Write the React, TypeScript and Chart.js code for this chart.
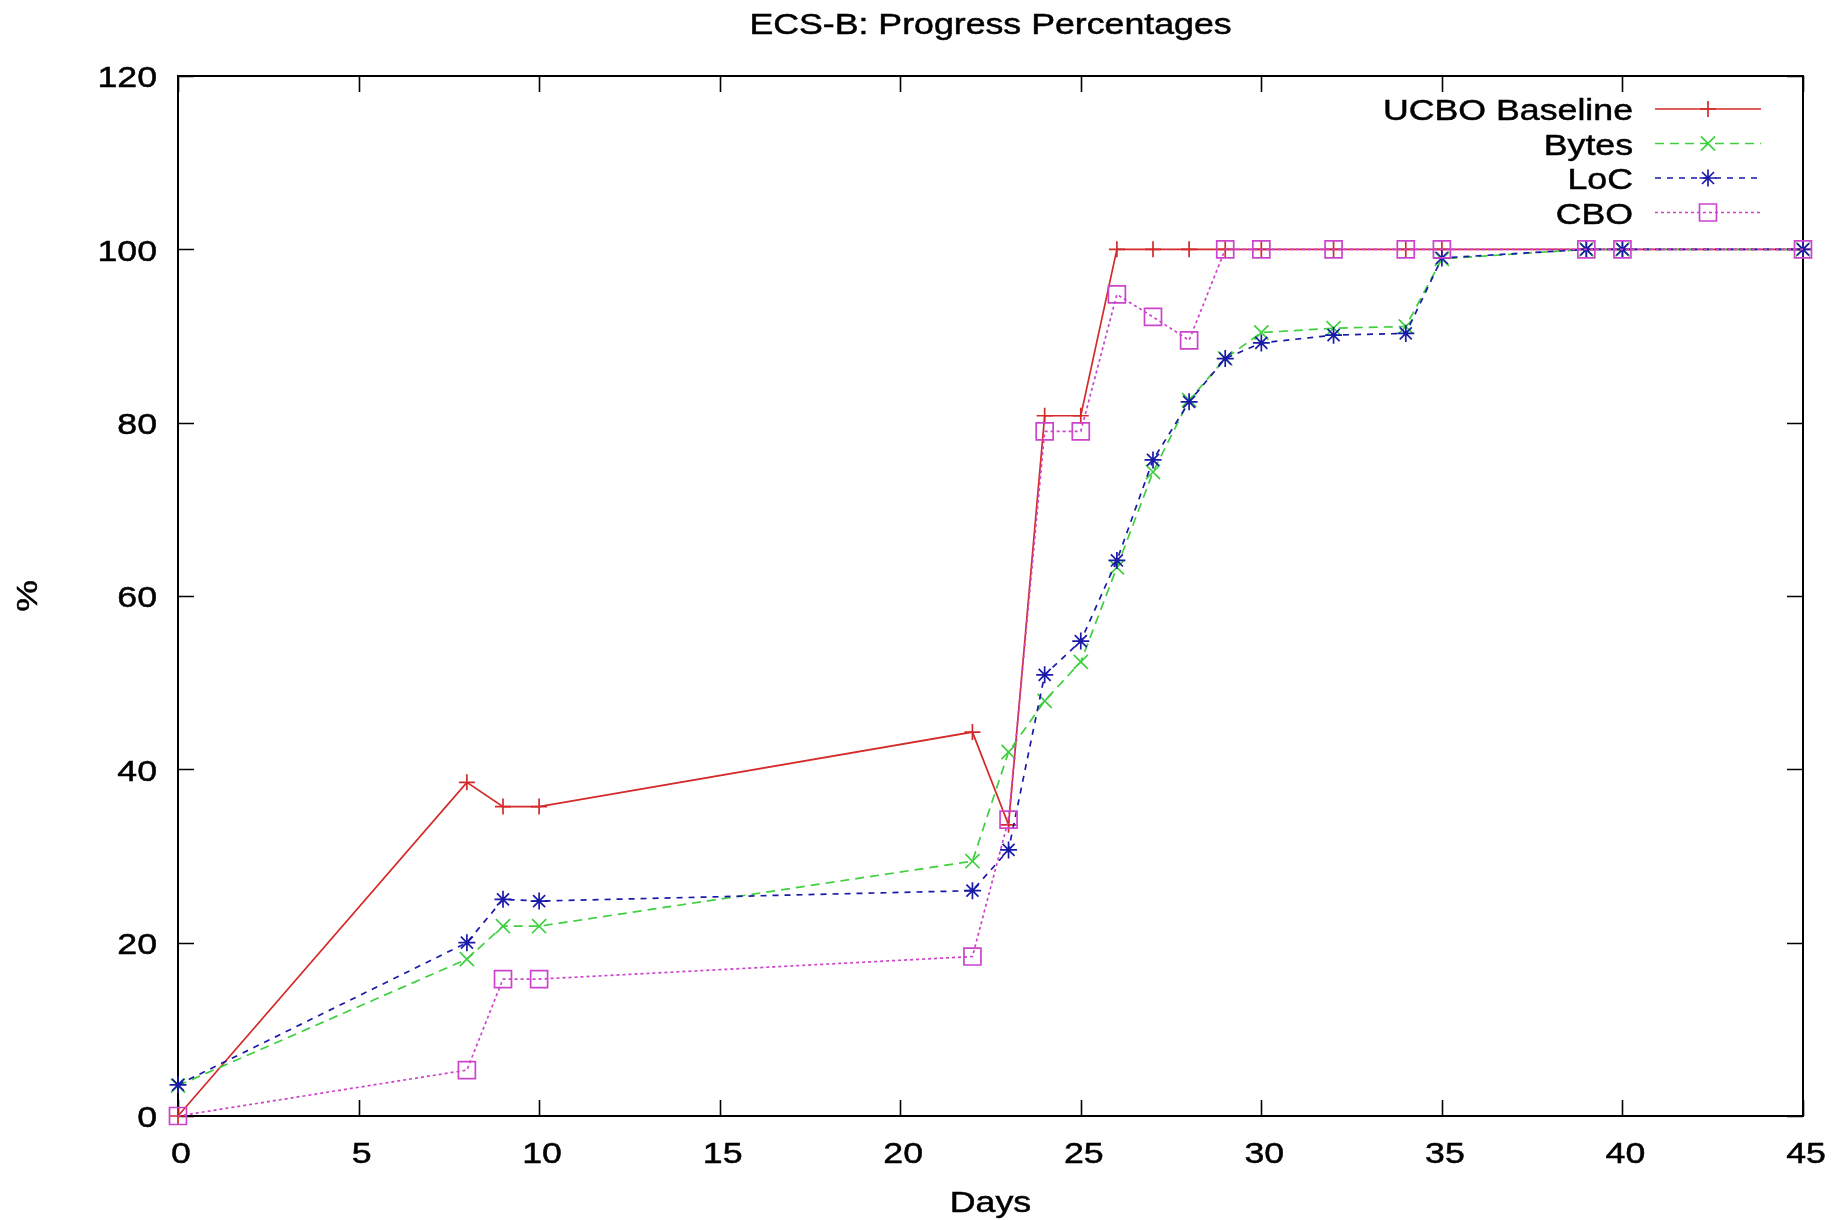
import React, { useEffect, useRef } from "react";
import { Chart, registerables } from "chart.js";

Chart.register(...registerables);

// Progress data per day of the ECS-B run
const days = [0, 8, 9, 10, 22, 23, 24, 25, 26, 27, 28, 29, 30, 32, 34, 35, 39, 40, 45];
const baseline = [0, 38.5, 35.7, 35.7, 44.3, 33.6, 80.8, 80.8, 100, 100, 100, 100, 100, 100, 100, 100, 100, 100, 100];
const bytes = [3.5, 18.1, 21.9, 21.9, 29.4, 42.0, 47.9, 52.4, 63.3, 74.3, 82.6, 87.4, 90.4, 90.9, 91.1, 98.9, 100, 100, 100];
const loc = [3.6, 20.0, 25.0, 24.8, 26.0, 30.7, 50.9, 54.8, 64.1, 75.7, 82.4, 87.4, 89.2, 90.1, 90.3, 99.0, 100, 100, 100];
const cbo = [0, 5.3, 15.8, 15.8, 18.4, 34.2, 79.0, 79.0, 94.8, 92.2, 89.5, 100, 100, 100, 100, 100, 100, 100, 100];

const seriesNames = ["UCBO Baseline", "Bytes", "LoC", "CBO"];
const xTicks = [0, 5, 10, 15, 20, 25, 30, 35, 40, 45];
const yTicks = [0, 20, 40, 60, 80, 100, 120];
const chartTitle = "ECS-B: Progress Percentages";
const xTitle = "Days";
const yTitle = "%";

const FONT = "30px 'Liberation Sans', Arial, sans-serif";
const STRETCH = 1.19;
const TICK_LEN = 16;
const TEXT_DY = 3;

type Marker = "cross" | "crossRot" | "star" | "rect";

const styles: { color: string; dash: number[]; marker: Marker; radius: number }[] = [
  { color: "#d42a2a", dash: [], marker: "cross", radius: 8 },
  { color: "#3fcf3f", dash: [9, 6], marker: "crossRot", radius: 10 },
  { color: "#1a1aa8", dash: [6, 6], marker: "star", radius: 8.5 },
  { color: "#cc44cc", dash: [3, 3], marker: "rect", radius: 12 },
];

function drawMarker(ctx: CanvasRenderingContext2D, m: Marker, x: number, y: number, r: number) {
  ctx.beginPath();
  const d = r * Math.SQRT1_2;
  if (m === "cross" || m === "star") {
    ctx.moveTo(x - r, y);
    ctx.lineTo(x + r, y);
    ctx.moveTo(x, y - r);
    ctx.lineTo(x, y + r);
  }
  if (m === "crossRot" || m === "star") {
    ctx.moveTo(x - d, y - d);
    ctx.lineTo(x + d, y + d);
    ctx.moveTo(x - d, y + d);
    ctx.lineTo(x + d, y - d);
  }
  if (m === "rect") {
    ctx.rect(x - d, y - d, 2 * d, 2 * d);
  }
  ctx.stroke();
}

function text(
  ctx: CanvasRenderingContext2D,
  s: string,
  x: number,
  y: number,
  align: CanvasTextAlign,
  rotate = 0
) {
  ctx.save();
  ctx.translate(x, y + (rotate ? 0 : TEXT_DY));
  if (rotate) ctx.rotate(rotate);
  ctx.scale(STRETCH, 1);
  ctx.font = FONT;
  ctx.fillStyle = "#000";
  ctx.strokeStyle = "#000";
  ctx.lineWidth = 0.5;
  ctx.textAlign = align;
  ctx.textBaseline = "middle";
  ctx.fillText(s, 0, 0);
  ctx.strokeText(s, 0, 0);
  ctx.restore();
}

const framePlugin = {
  id: "gnuFrame",
  beforeDatasetsDraw(chart: any) {
    const { ctx, chartArea: a, scales } = chart;
    const xs = scales.x;
    const ys = scales.y;
    ctx.save();
    ctx.strokeStyle = "#000";
    ctx.lineWidth = 2;
    ctx.strokeRect(a.left, a.top, a.right - a.left, a.bottom - a.top);
    ctx.lineWidth = 1.6;
    ctx.beginPath();
    for (const v of xTicks) {
      const px = Math.round(xs.getPixelForValue(v)) + 0.5;
      ctx.moveTo(px, a.bottom);
      ctx.lineTo(px, a.bottom - TICK_LEN);
      ctx.moveTo(px, a.top);
      ctx.lineTo(px, a.top + TICK_LEN);
    }
    for (const v of yTicks) {
      const py = Math.round(ys.getPixelForValue(v)) + 0.5;
      ctx.moveTo(a.left, py);
      ctx.lineTo(a.left + TICK_LEN, py);
      ctx.moveTo(a.right, py);
      ctx.lineTo(a.right - TICK_LEN, py);
    }
    ctx.stroke();
    ctx.restore();
  },
  afterDraw(chart: any) {
    const { ctx, chartArea: a, scales } = chart;
    const xs = scales.x;
    const ys = scales.y;
    // tick labels
    for (const v of xTicks) text(ctx, String(v), xs.getPixelForValue(v) + 3, a.bottom + 36, "center");
    for (const v of yTicks) text(ctx, String(v), a.left - 21, ys.getPixelForValue(v), "right");
    // titles
    const cx = (a.left + a.right) / 2;
    text(ctx, chartTitle, cx, 23, "center");
    text(ctx, xTitle, cx, a.bottom + 85, "center");
    text(ctx, yTitle, 29, (a.top + a.bottom) / 2, "center", -Math.PI / 2);
    // key in the upper right corner
    const keyTextRight = 1633;
    const sampleL = 1655;
    const sampleR = 1761;
    seriesNames.forEach((name, i) => {
      const y = 109 + i * 34.5;
      text(ctx, name, keyTextRight, y, "right");
      const st = styles[i];
      ctx.save();
      ctx.strokeStyle = st.color;
      ctx.lineWidth = 1.7;
      ctx.setLineDash(st.dash);
      ctx.beginPath();
      ctx.moveTo(sampleL, y);
      ctx.lineTo(sampleR, y);
      ctx.stroke();
      ctx.setLineDash([]);
      drawMarker(ctx, st.marker, (sampleL + sampleR) / 2, y, st.radius);
      ctx.restore();
    });
  },
};

export default function App() {
  const ref = useRef<HTMLCanvasElement | null>(null);

  useEffect(() => {
    if (!ref.current) return;
    const values = [baseline, bytes, loc, cbo];
    const chart = new Chart(ref.current, {
      type: "line",
      data: {
        datasets: values.map((vals, i) => ({
          label: seriesNames[i],
          data: days.map((d, j) => ({ x: d, y: vals[j] })),
          borderColor: styles[i].color,
          borderWidth: 1.7,
          borderDash: styles[i].dash,
          pointStyle: styles[i].marker,
          pointRadius: styles[i].radius,
          pointBorderColor: styles[i].color,
          pointBackgroundColor: "rgba(0,0,0,0)",
          pointBorderWidth: 1.7,
          fill: false,
          tension: 0,
          clip: false as any,
          order: 3 - i,
        })),
      },
      options: {
        animation: false,
        responsive: true,
        maintainAspectRatio: false,
        devicePixelRatio: 1,
        layout: { padding: { left: 178, top: 76, right: 35, bottom: 104 } },
        scales: {
          x: { type: "linear", min: 0, max: 45, display: false },
          y: { type: "linear", min: 0, max: 120, display: false },
        },
        plugins: {
          legend: { display: false },
          title: { display: false },
          tooltip: { enabled: false },
        },
      },
      plugins: [framePlugin],
    });
    return () => chart.destroy();
  }, []);

  return (
    <div style={{ position: "absolute", left: 0, top: 0, width: 1838, height: 1220, background: "#fff" }}>
      <canvas ref={ref} />
    </div>
  );
}
